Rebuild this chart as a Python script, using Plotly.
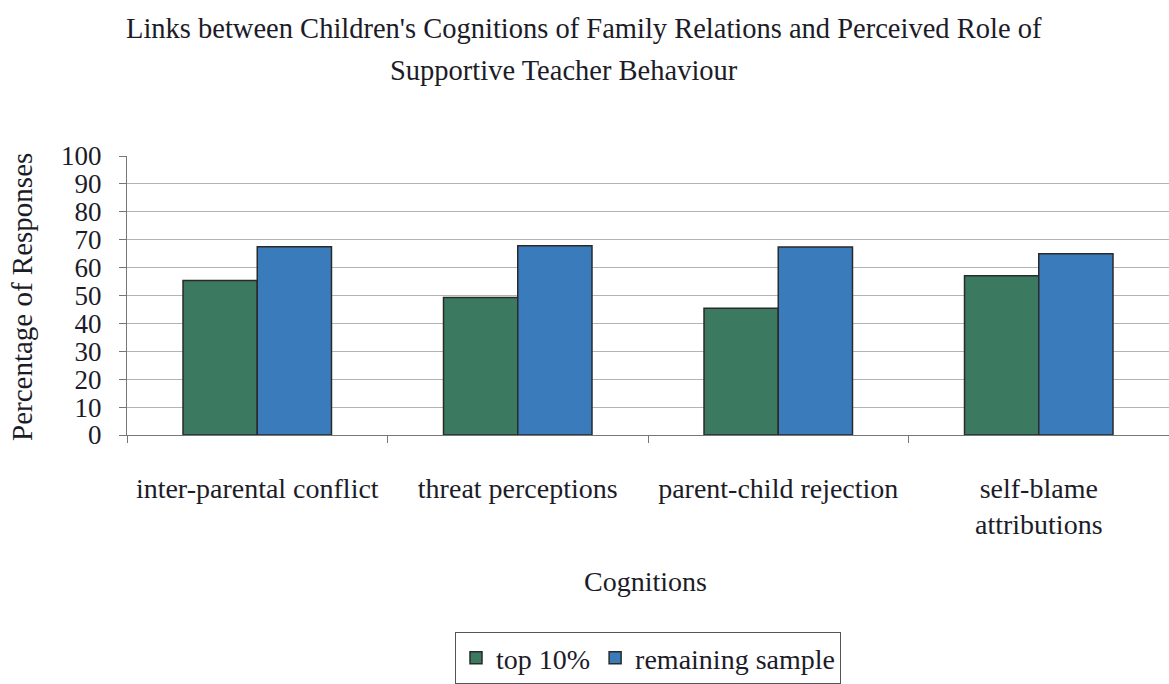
import plotly.graph_objects as go

categories = ["inter-parental conflict", "threat perceptions", "parent-child rejection", "self-blame<br>attributions"]
top_10 = [55.4, 49.3, 45.4, 57.1]
remaining_sample = [67.5, 67.8, 67.4, 65.0]
y_ticks = list(range(0, 101, 10))

FONT = "Liberation Serif, Times New Roman, serif"
TEXT = "#1c1c28"

W, H = 1169, 684
L, R, T, B = 127, 0, 156, 247
pw, ph = W - L - R, H - T - B


def px_ann(text, px, py, size, angle=0):
    """Annotation placed by pixel position on the page."""
    return dict(text=text, showarrow=False, textangle=angle,
                font=dict(size=size, family=FONT, color=TEXT),
                xref="paper", yref="paper",
                x=(px - L) / pw, y=(H - B - py) / ph,
                xanchor="center", yanchor="middle")


fig = go.Figure()
fig.add_trace(go.Bar(x=categories, y=top_10, name="top 10%",
                     marker=dict(color="#3b7a60", line=dict(color="#2a2a2a", width=1.5))))
fig.add_trace(go.Bar(x=categories, y=remaining_sample, name="remaining sample",
                     marker=dict(color="#3a7bbb", line=dict(color="#2a2a2a", width=1.5))))

fig.update_layout(
    width=W, height=H,
    paper_bgcolor="white", plot_bgcolor="white",
    margin=dict(l=L, r=R, t=T, b=B),
    barmode="group", bargap=0.43, bargroupgap=0,
    font=dict(family=FONT, size=28, color=TEXT),
    showlegend=True,
    legend=dict(orientation="h", x=(648 - L) / pw, xref="paper", xanchor="center",
                y=(H - B - 636) / ph, yanchor="top", bordercolor="#555555", borderwidth=1,
                bgcolor="white", font=dict(size=28, family=FONT, color=TEXT),
                itemwidth=30, tracegroupgap=0),
    annotations=[
        px_ann("Links between Children's Cognitions of Family Relations and Perceived Role of", 584, 28, 28.5),
        px_ann("Supportive Teacher Behaviour", 564, 70, 28.5),
        px_ann("Cognitions", 645, 585, 28),
        px_ann("Percentage of Responses", 22, 298, 29, angle=-90),
    ],
)

fig.update_xaxes(
    showline=True, linecolor="#777777", linewidth=1,
    ticks="outside", tickson="boundaries", ticklen=7, tickcolor="#777777",
    tickfont=dict(size=28, family=FONT, color=TEXT),
    ticklabelstandoff=28, showgrid=False,
)
fig.update_yaxes(
    range=[0, 100], tickvals=y_ticks, ticktext=[str(v) for v in y_ticks],
    showline=True, linecolor="#777777", linewidth=1,
    ticks="outside", ticklen=7, tickcolor="#777777",
    showgrid=True, gridcolor="#b4b4b4", gridwidth=1,
    tickfont=dict(size=27, family=FONT, color=TEXT),
    ticklabelstandoff=12,
    zeroline=False,
)

fig.write_html("out.html")
